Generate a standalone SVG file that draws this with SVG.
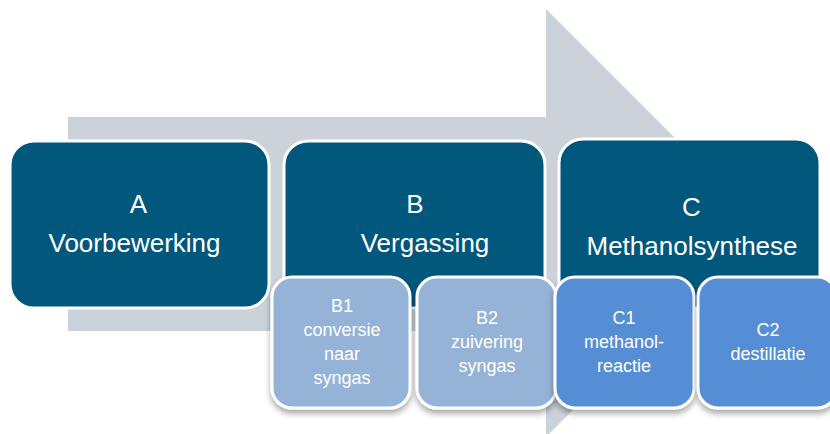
<svg xmlns="http://www.w3.org/2000/svg" width="830" height="434" viewBox="0 0 830 434">
  <style>
    .main { fill: #02577C; stroke: #FFFFFF; stroke-width: 3; }
    .subB { fill: #95B3D7; stroke: #FFFFFF; stroke-width: 3; filter: url(#shadow); }
    .subC { fill: #558ED5; stroke: #FFFFFF; stroke-width: 3; filter: url(#shadow); }
    .big { font-family: "Liberation Sans", Arial, sans-serif; font-size: 26px; fill: #FFFFFF; text-anchor: middle; }
    .small { font-family: "Liberation Sans", Arial, sans-serif; font-size: 18px; fill: #FFFFFF; text-anchor: middle; }
  </style>
  <defs>
    <filter id="shadow" x="-20%" y="-20%" width="140%" height="150%">
      <feGaussianBlur in="SourceAlpha" stdDeviation="3"/>
      <feOffset dx="0" dy="4" result="blur"/>
      <feComponentTransfer><feFuncA type="linear" slope="0.35"/></feComponentTransfer>
      <feMerge><feMergeNode/><feMergeNode in="SourceGraphic"/></feMerge>
    </filter>
  </defs>
  <rect width="830" height="434" fill="#FFFFFF"/>

  <!-- background process arrow -->
  <g id="connectors">
    <polygon points="68,117 546,117 546,9 760,223 546,437 546,331 68,331" fill="#CBD2DA"/>
  </g>

  <g id="nodeA">
    <rect class="main" x="10" y="141" width="259" height="167" rx="24"/>
    <text class="big" x="138.5" y="213">A</text>
    <text class="big" x="134.5" y="252">Voorbewerking</text>
  </g>

  <g id="nodeB">
    <rect class="main" x="284" y="141" width="261" height="167" rx="24"/>
    <text class="big" x="415" y="213">B</text>
    <text class="big" x="425" y="252">Vergassing</text>
  </g>

  <g id="nodeC">
    <rect class="main" x="559" y="139" width="261" height="169" rx="24"/>
    <text class="big" x="691.5" y="216">C</text>
    <text class="big" x="692" y="255">Methanolsynthese</text>
  </g>

  <g id="nodeB1">
    <rect class="subB" x="272" y="277" width="138" height="131" rx="20"/>
    <text class="small" x="342" y="312">B1</text>
    <text class="small" x="342" y="336">conversie</text>
    <text class="small" x="342" y="360">naar</text>
    <text class="small" x="342" y="384">syngas</text>
  </g>

  <g id="nodeB2">
    <rect class="subB" x="417" y="277" width="139" height="131" rx="20"/>
    <text class="small" x="487" y="324">B2</text>
    <text class="small" x="487" y="348">zuivering</text>
    <text class="small" x="487" y="372">syngas</text>
  </g>

  <g id="nodeC1">
    <rect class="subC" x="555" y="277" width="139" height="131" rx="20"/>
    <text class="small" x="624" y="324">C1</text>
    <text class="small" x="624" y="348">methanol-</text>
    <text class="small" x="624" y="372">reactie</text>
  </g>

  <g id="nodeC2">
    <rect class="subC" x="698" y="277" width="139" height="131" rx="20"/>
    <text class="small" x="768" y="336">C2</text>
    <text class="small" x="768" y="360">destillatie</text>
  </g>
</svg>
